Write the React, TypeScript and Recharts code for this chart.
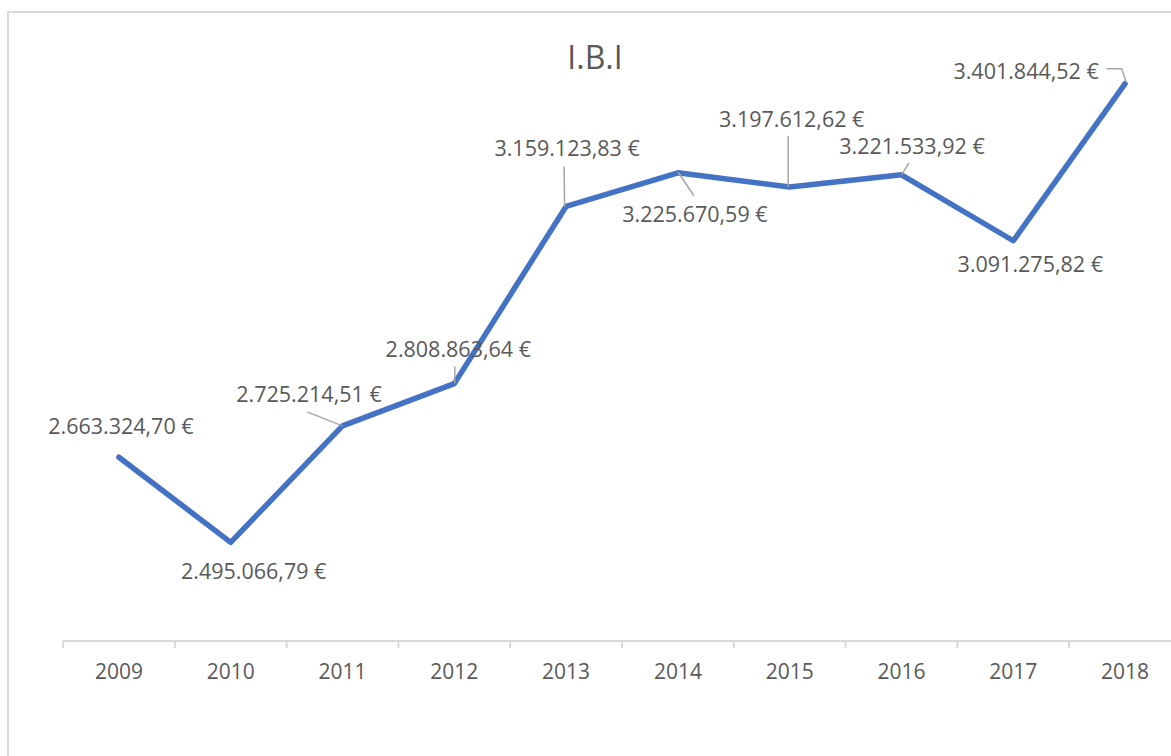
import { LineChart, Line, XAxis, YAxis, LabelList } from "recharts";

const years = ["2009", "2010", "2011", "2012", "2013", "2014", "2015", "2016", "2017", "2018"];
const ibi = [
  2663324.7, 2495066.79, 2725214.51, 2808863.64, 3159123.83,
  3225670.59, 3197612.62, 3221533.92, 3091275.82, 3401844.52,
];

const data = years.map((year, i) => ({ year, ibi: ibi[i] }));

// where each data label sits relative to its point, plus the gray leader line (if any)
const labelSpots: { dx: number; dy: number; leader?: number[][] }[] = [
  { dx: 2, dy: -31.5 },
  { dx: 23, dy: 28.5 },
  { dx: -33.5, dy: -32, leader: [[-35.5, -14], [0, 0]] },
  { dx: 4, dy: -35.5, leader: [[0.5, -17], [0.5, 0]] },
  { dx: 1, dy: -58.5, leader: [[-2, -40], [-1.5, 0]] },
  { dx: 17, dy: 40.5, leader: [[0, -1], [16, 23]] },
  { dx: 2, dy: -68, leader: [[-1.5, -51], [-1.5, 0]] },
  { dx: 10.5, dy: -29.5, leader: [[0, 0], [7.5, -12]] },
  { dx: 17, dy: 23 },
  { dx: -99, dy: -13.5, leader: [[-18.5, -15], [-3.5, -15], [1.5, -1]] },
];

const FONT = "'Open Sans', 'Liberation Sans', sans-serif";
const TEXT = "#595959";
const PLOT_W = 1118;
const STEP = PLOT_W / years.length;

function euro(v: number) {
  const [int, dec] = v.toFixed(2).split(".");
  return int.replace(/\B(?=(\d{3})+(?!\d))/g, ".") + "," + dec + " €";
}

function ValueLabel(props: any) {
  const { x, y, index, value } = props;
  const spot = labelSpots[index];
  if (!spot) return null;
  return (
    <g>
      {spot.leader && (
        <polyline
          points={spot.leader.map(([a, b]) => `${x + a},${y + b}`).join(" ")}
          fill="none"
          stroke="#a6a6a6"
          strokeWidth={1.5}
        />
      )}
      <text
        x={x + spot.dx}
        y={y + spot.dy}
        textAnchor="middle"
        dominantBaseline="central"
        fontFamily={FONT}
        fontSize={21.5}
        fill={TEXT}
      >
        {euro(Number(value))}
      </text>
    </g>
  );
}

function YearTick(props: any) {
  const { x, y, payload } = props;
  const left = x - STEP / 2;
  return (
    <g>
      <line x1={left} x2={left} y1={y} y2={y + 7} stroke="#d9d9d9" strokeWidth={2} />
      <text
        x={x}
        y={y + 30}
        textAnchor="middle"
        dominantBaseline="central"
        fontFamily={FONT}
        fontSize={21}
        fill={TEXT}
      >
        {payload.value}
      </text>
    </g>
  );
}

export default function App() {
  return (
    <div style={{ position: "absolute", left: 0, top: 0, width: 1171, height: 756, overflow: "hidden", background: "#fff" }}>
      <div
        style={{
          position: "absolute",
          left: 7,
          top: 11,
          width: 1260,
          height: 900,
          border: "2px solid #d9d9d9",
        }}
      >
        <LineChart
          width={1192}
          height={688}
          data={data}
          margin={{ top: 21, left: 54, right: 20, bottom: 10 }}
        >
          <XAxis
            dataKey="year"
            height={50}
            padding={{ left: STEP / 2, right: STEP / 2 }}
            axisLine={{ stroke: "#d9d9d9", strokeWidth: 2 }}
            tickLine={false}
            tickSize={0}
            tickMargin={0}
            interval={0}
            tick={<YearTick />}
          />
          <YAxis hide domain={[2300000, 3500000]} />
          <Line
            type="linear"
            dataKey="ibi"
            stroke="#4472C4"
            strokeWidth={5.5}
            strokeLinecap="round"
            strokeLinejoin="round"
            dot={false}
            isAnimationActive={false}
          >
            <LabelList dataKey="ibi" content={<ValueLabel />} />
          </Line>
        </LineChart>
      </div>
      <div
        style={{
          position: "absolute",
          left: 495,
          top: 37,
          width: 200,
          lineHeight: "40px",
          textAlign: "center",
          fontFamily: FONT,
          fontSize: 32,
          color: TEXT,
        }}
      >
        I.B.I
      </div>
    </div>
  );
}
